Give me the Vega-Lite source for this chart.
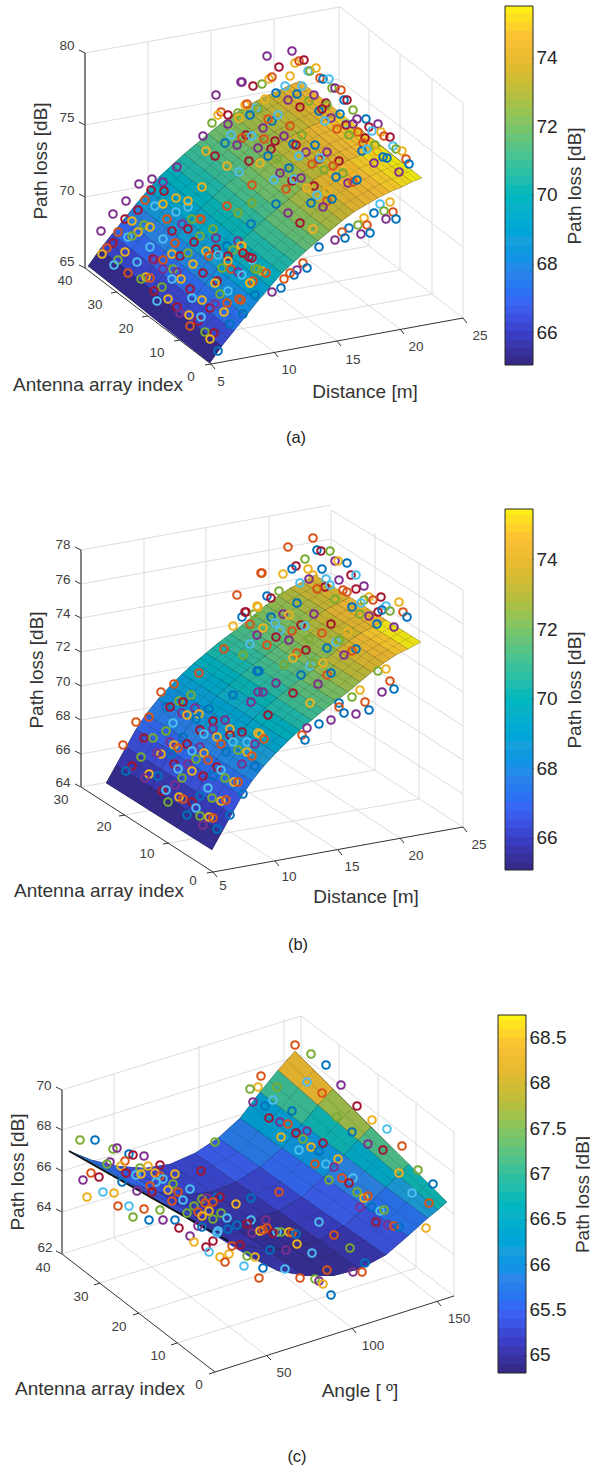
{"$schema":"https://vega.github.io/schema/vega-lite/v6.json","background":"white","padding":{"left":0,"right":0,"top":5,"bottom":0},"autosize":{"type":"pad"},"spacing":0,"config":{"font":"Liberation Sans","view":{"stroke":null},"concat":{"spacing":0}},"resolve":{"scale":{"fill":"independent","stroke":"independent","color":"independent"}},
"datasets":{
"cb1":[{"a":65.05,"b":65.3},{"a":65.3,"b":65.55},{"a":65.55,"b":65.8},{"a":65.8,"b":66.05},{"a":66.05,"b":66.3},{"a":66.3,"b":66.55},{"a":66.55,"b":66.8},{"a":66.8,"b":67.05},{"a":67.05,"b":67.3},{"a":67.3,"b":67.55},{"a":67.55,"b":67.8},{"a":67.8,"b":68.05},{"a":68.05,"b":68.3},{"a":68.3,"b":68.55},{"a":68.55,"b":68.8},{"a":68.8,"b":69.05},{"a":69.05,"b":69.3},{"a":69.3,"b":69.55},{"a":69.55,"b":69.8},{"a":69.8,"b":70.05},{"a":70.05,"b":70.3},{"a":70.3,"b":70.55},{"a":70.55,"b":70.8},{"a":70.8,"b":71.05},{"a":71.05,"b":71.3},{"a":71.3,"b":71.55},{"a":71.55,"b":71.8},{"a":71.8,"b":72.05},{"a":72.05,"b":72.3},{"a":72.3,"b":72.55},{"a":72.55,"b":72.8},{"a":72.8,"b":73.05},{"a":73.05,"b":73.3},{"a":73.3,"b":73.55},{"a":73.55,"b":73.8},{"a":73.8,"b":74.05},{"a":74.05,"b":74.3},{"a":74.3,"b":74.55},{"a":74.55,"b":74.8},{"a":74.8,"b":75.05},{"a":75.05,"b":75.3},{"a":75.3,"b":75.5}],
"cb3":[{"a":64.8,"b":64.9},{"a":64.9,"b":65},{"a":65,"b":65.1},{"a":65.1,"b":65.2},{"a":65.2,"b":65.3},{"a":65.3,"b":65.4},{"a":65.4,"b":65.5},{"a":65.5,"b":65.6},{"a":65.6,"b":65.7},{"a":65.7,"b":65.8},{"a":65.8,"b":65.9},{"a":65.9,"b":66},{"a":66,"b":66.1},{"a":66.1,"b":66.2},{"a":66.2,"b":66.3},{"a":66.3,"b":66.4},{"a":66.4,"b":66.5},{"a":66.5,"b":66.6},{"a":66.6,"b":66.7},{"a":66.7,"b":66.8},{"a":66.8,"b":66.9},{"a":66.9,"b":67},{"a":67,"b":67.1},{"a":67.1,"b":67.2},{"a":67.2,"b":67.3},{"a":67.3,"b":67.4},{"a":67.4,"b":67.5},{"a":67.5,"b":67.6},{"a":67.6,"b":67.7},{"a":67.7,"b":67.8},{"a":67.8,"b":67.9},{"a":67.9,"b":68},{"a":68,"b":68.1},{"a":68.1,"b":68.2},{"a":68.2,"b":68.3},{"a":68.3,"b":68.4},{"a":68.4,"b":68.5},{"a":68.5,"b":68.6},{"a":68.6,"b":68.7},{"a":68.7,"b":68.75}],
"la":[{"k":"g","x":85,"y":52,"x2":340,"y2":6},{"k":"g","x":85,"y":124,"x2":338,"y2":78},{"k":"g","x":85,"y":196,"x2":338,"y2":150},{"k":"g","x":85,"y":267,"x2":338,"y2":221},{"k":"g","x":340,"y":6,"x2":463,"y2":102},{"k":"g","x":338,"y":78,"x2":463,"y2":174},{"k":"g","x":338,"y":150,"x2":463,"y2":246},{"k":"g","x":338,"y":221,"x2":463,"y2":317},{"k":"g","x":148,"y":41,"x2":148,"y2":256},{"k":"g","x":211,"y":29,"x2":211,"y2":244},{"k":"g","x":274,"y":18,"x2":274,"y2":233},{"k":"g","x":339,"y":6,"x2":339,"y2":221},{"k":"g","x":369,"y":30,"x2":369,"y2":245},{"k":"g","x":400,"y":54,"x2":400,"y2":269},{"k":"g","x":432,"y":78,"x2":432,"y2":293},{"k":"g","x":463,"y":102,"x2":463,"y2":317},{"k":"g","x":274,"y":351,"x2":148,"y2":256},{"k":"g","x":337,"y":340,"x2":211,"y2":244},{"k":"g","x":400,"y":328,"x2":274,"y2":233},{"k":"g","x":180,"y":339,"x2":432,"y2":293},{"k":"g","x":148,"y":315,"x2":400,"y2":269},{"k":"g","x":117,"y":291,"x2":369,"y2":245},{"k":"a","x":85,"y":267,"x2":211,"y2":363},{"k":"a","x":211,"y":363,"x2":463,"y2":317},{"k":"a","x":85,"y":52,"x2":79,"y2":49},{"k":"a","x":85,"y":124,"x2":79,"y2":121},{"k":"a","x":85,"y":196,"x2":79,"y2":193},{"k":"a","x":85,"y":267,"x2":79,"y2":264},{"k":"a","x":117,"y":291,"x2":111,"y2":292},{"k":"a","x":148,"y":315,"x2":142,"y2":316},{"k":"a","x":180,"y":339,"x2":174,"y2":340},{"k":"a","x":211,"y":363,"x2":205,"y2":364},{"k":"a","x":211,"y":363,"x2":215,"y2":368},{"k":"a","x":274,"y":351,"x2":278,"y2":356},{"k":"a","x":337,"y":340,"x2":341,"y2":345},{"k":"a","x":400,"y":328,"x2":404,"y2":333},{"k":"a","x":463,"y":317,"x2":467,"y2":322},{"k":"z","x":85,"y":52,"x2":85,"y2":267}],
"lb":[{"k":"g","x":81,"y":550,"x2":331,"y2":505},{"k":"g","x":81,"y":584,"x2":331,"y2":539},{"k":"g","x":81,"y":618,"x2":331,"y2":573},{"k":"g","x":81,"y":652,"x2":331,"y2":607},{"k":"g","x":81,"y":686,"x2":331,"y2":641},{"k":"g","x":81,"y":720,"x2":331,"y2":675},{"k":"g","x":81,"y":754,"x2":331,"y2":709},{"k":"g","x":81,"y":787,"x2":331,"y2":742},{"k":"g","x":331,"y":510,"x2":463,"y2":590},{"k":"g","x":331,"y":539,"x2":463,"y2":624},{"k":"g","x":331,"y":573,"x2":463,"y2":658},{"k":"g","x":331,"y":607,"x2":463,"y2":692},{"k":"g","x":331,"y":641,"x2":463,"y2":726},{"k":"g","x":331,"y":675,"x2":463,"y2":760},{"k":"g","x":331,"y":709,"x2":463,"y2":794},{"k":"g","x":331,"y":742,"x2":463,"y2":827},{"k":"g","x":144,"y":539,"x2":144,"y2":776},{"k":"g","x":206,"y":528,"x2":206,"y2":765},{"k":"g","x":269,"y":516,"x2":269,"y2":753},{"k":"g","x":331,"y":510,"x2":331,"y2":742},{"k":"g","x":375,"y":533,"x2":375,"y2":770},{"k":"g","x":419,"y":562,"x2":419,"y2":799},{"k":"g","x":463,"y":590,"x2":463,"y2":827},{"k":"g","x":275,"y":861,"x2":144,"y2":776},{"k":"g","x":338,"y":850,"x2":206,"y2":765},{"k":"g","x":400,"y":838,"x2":269,"y2":753},{"k":"g","x":125,"y":815,"x2":375,"y2":770},{"k":"g","x":169,"y":843,"x2":419,"y2":799},{"k":"a","x":81,"y":787,"x2":213,"y2":872},{"k":"a","x":213,"y":872,"x2":463,"y2":827},{"k":"a","x":81,"y":550,"x2":75,"y2":547},{"k":"a","x":81,"y":584,"x2":75,"y2":581},{"k":"a","x":81,"y":618,"x2":75,"y2":615},{"k":"a","x":81,"y":652,"x2":75,"y2":649},{"k":"a","x":81,"y":686,"x2":75,"y2":683},{"k":"a","x":81,"y":720,"x2":75,"y2":717},{"k":"a","x":81,"y":754,"x2":75,"y2":751},{"k":"a","x":81,"y":787,"x2":75,"y2":784},{"k":"a","x":125,"y":815,"x2":119,"y2":816},{"k":"a","x":169,"y":843,"x2":163,"y2":844},{"k":"a","x":213,"y":872,"x2":207,"y2":873},{"k":"a","x":213,"y":872,"x2":217,"y2":877},{"k":"a","x":275,"y":861,"x2":279,"y2":866},{"k":"a","x":338,"y":850,"x2":342,"y2":855},{"k":"a","x":400,"y":838,"x2":404,"y2":843},{"k":"a","x":463,"y":827,"x2":467,"y2":832},{"k":"z","x":81,"y":550,"x2":81,"y2":787}],
"lc":[{"k":"g","x":62,"y":1090,"x2":301,"y2":1016},{"k":"g","x":62,"y":1130,"x2":301,"y2":1055},{"k":"g","x":62,"y":1171,"x2":301,"y2":1096},{"k":"g","x":62,"y":1212,"x2":301,"y2":1137},{"k":"g","x":62,"y":1254,"x2":301,"y2":1178},{"k":"g","x":301,"y":1016,"x2":454,"y2":1132},{"k":"g","x":301,"y":1055,"x2":454,"y2":1173},{"k":"g","x":301,"y":1096,"x2":454,"y2":1214},{"k":"g","x":301,"y":1137,"x2":454,"y2":1255},{"k":"g","x":301,"y":1178,"x2":454,"y2":1296},{"k":"g","x":114,"y":1074,"x2":114,"y2":1238},{"k":"g","x":199,"y":1046,"x2":199,"y2":1210},{"k":"g","x":284,"y":1019,"x2":284,"y2":1183},{"k":"g","x":301,"y":1016,"x2":301,"y2":1178},{"k":"g","x":339,"y":1044,"x2":339,"y2":1208},{"k":"g","x":378,"y":1074,"x2":378,"y2":1238},{"k":"g","x":416,"y":1104,"x2":416,"y2":1268},{"k":"g","x":454,"y":1132,"x2":454,"y2":1296},{"k":"g","x":267,"y":1356,"x2":114,"y2":1238},{"k":"g","x":352,"y":1328,"x2":199,"y2":1210},{"k":"g","x":437,"y":1301,"x2":284,"y2":1183},{"k":"g","x":100,"y":1283,"x2":339,"y2":1208},{"k":"g","x":139,"y":1313,"x2":378,"y2":1238},{"k":"g","x":177,"y":1343,"x2":416,"y2":1268},{"k":"a","x":62,"y":1254,"x2":215,"y2":1372},{"k":"a","x":215,"y":1372,"x2":454,"y2":1296},{"k":"a","x":62,"y":1090,"x2":56,"y2":1087},{"k":"a","x":62,"y":1130,"x2":56,"y2":1127},{"k":"a","x":62,"y":1171,"x2":56,"y2":1168},{"k":"a","x":62,"y":1212,"x2":56,"y2":1209},{"k":"a","x":62,"y":1254,"x2":56,"y2":1251},{"k":"a","x":100,"y":1283,"x2":94,"y2":1285},{"k":"a","x":139,"y":1313,"x2":133,"y2":1315},{"k":"a","x":177,"y":1343,"x2":171,"y2":1345},{"k":"a","x":215,"y":1372,"x2":209,"y2":1374},{"k":"a","x":267,"y":1356,"x2":271,"y2":1360},{"k":"a","x":352,"y":1328,"x2":356,"y2":1333},{"k":"a","x":437,"y":1301,"x2":441,"y2":1306},{"k":"z","x":62,"y":1090,"x2":62,"y2":1254}],
"ta":[{"k":"t","s":"80","x":67,"y":45},{"k":"t","s":"75","x":67,"y":117},{"k":"t","s":"70","x":67,"y":190},{"k":"t","s":"65","x":67,"y":261},{"k":"t","s":"40","x":65,"y":280},{"k":"t","s":"30","x":95,"y":304},{"k":"t","s":"20","x":126,"y":328},{"k":"t","s":"10","x":157,"y":352},{"k":"t","s":"0","x":191,"y":376},{"k":"t","s":"5","x":221,"y":381},{"k":"t","s":"10","x":289,"y":369},{"k":"t","s":"15","x":353,"y":359},{"k":"t","s":"20","x":416,"y":346},{"k":"t","s":"25","x":480,"y":335},{"k":"h","s":"Antenna array index","x":98,"y":384},{"k":"h","s":"Distance [m]","x":365,"y":391},{"k":"r","s":"Path loss [dB]","x":41,"y":160},{"k":"c","s":"(a)","x":296,"y":437}],
"tb":[{"k":"t","s":"78","x":63,"y":545},{"k":"t","s":"76","x":63,"y":580},{"k":"t","s":"74","x":63,"y":614},{"k":"t","s":"72","x":63,"y":647},{"k":"t","s":"70","x":63,"y":682},{"k":"t","s":"68","x":63,"y":716},{"k":"t","s":"66","x":63,"y":750},{"k":"t","s":"64","x":63,"y":783},{"k":"t","s":"30","x":61,"y":800},{"k":"t","s":"20","x":104,"y":827},{"k":"t","s":"10","x":147,"y":854},{"k":"t","s":"0","x":193,"y":881},{"k":"t","s":"5","x":223,"y":886},{"k":"t","s":"10","x":289,"y":877},{"k":"t","s":"15","x":352,"y":867},{"k":"t","s":"20","x":416,"y":856},{"k":"t","s":"25","x":479,"y":845},{"k":"h","s":"Antenna array index","x":99,"y":891},{"k":"h","s":"Distance [m]","x":366,"y":897},{"k":"r","s":"Path loss [dB]","x":37,"y":670},{"k":"c","s":"(b)","x":298,"y":945}],
"tc":[{"k":"t","s":"70","x":44,"y":1086},{"k":"t","s":"68","x":44,"y":1126},{"k":"t","s":"66","x":44,"y":1167},{"k":"t","s":"64","x":44,"y":1207},{"k":"t","s":"62","x":45,"y":1248},{"k":"t","s":"40","x":43,"y":1268},{"k":"t","s":"30","x":81,"y":1297},{"k":"t","s":"20","x":119,"y":1327},{"k":"t","s":"10","x":158,"y":1356},{"k":"t","s":"0","x":199,"y":1385},{"k":"t","s":"50","x":284,"y":1373},{"k":"t","s":"100","x":373,"y":1346},{"k":"t","s":"150","x":459,"y":1319},{"k":"h","s":"Antenna array index","x":100,"y":1389},{"k":"h","s":"Angle [ º]","x":360,"y":1391},{"k":"r","s":"Path loss [dB]","x":18,"y":1172},{"k":"c","s":"(c)","x":297,"y":1457}],
"ba":[{"i":0,"x":[88,100,112,124,136,148,160,172,184,196,208,220,232,244,256,268,280,290,300,422,412,402,390,378,366,354,342,330,318,306,294,282,270,258,246,234,222,210],"y":[265,248,233,218,203,189,175,164,153,143,133,123,114,107,100,94,89,84,80,177,181,186,191,197,204,211,220,230,240,250,261,272,286,300,315,330,345,362]}],
"bb":[{"i":0,"x":[106,116,126,136,146,158,170,182,194,206,218,230,242,254,266,278,290,302,315,421,408,396,384,372,360,348,336,324,312,300,288,276,264,252,242,232,222,212],"y":[783,765,747,729,714,699,686,674,663,653,643,634,625,615,605,596,588,582,575,642,649,655,663,672,682,692,701,710,720,730,741,753,766,781,796,814,832,850]}],
"bc":[{"i":0,"x":[69,92,118,145,170,195,218,240,260,278,295,447,438,428,408,386,360,333,306,278,250,221],"y":[1151,1160,1166,1168,1164,1153,1138,1118,1092,1070,1051,1202,1210,1218,1236,1255,1269,1276,1276,1271,1257,1236]}],
"sa":[{"i":1,"v":65.2,"x":[88,100,141,129],"y":[265,248,280,297]},{"i":2,"v":66.1,"x":[100,112,153,141],"y":[248,233,265,280]},{"i":3,"v":66.9,"x":[112,124,165,153],"y":[233,218,250,265]},{"i":4,"v":67.7,"x":[124,136,177,165],"y":[218,203,235,250]},{"i":5,"v":68.4,"x":[136,148,189,177],"y":[203,189,221,235]},{"i":6,"v":69.1,"x":[148,160,201,189],"y":[189,175,207,221]},{"i":7,"v":69.7,"x":[160,172,213,201],"y":[175,164,196,207]},{"i":8,"v":70.3,"x":[172,184,225,213],"y":[164,153,185,196]},{"i":9,"v":70.8,"x":[184,196,237,225],"y":[153,143,175,185]},{"i":10,"v":71.3,"x":[196,208,249,237],"y":[143,133,165,175]},{"i":11,"v":71.7,"x":[208,220,261,249],"y":[133,123,155,165]},{"i":12,"v":72.1,"x":[220,232,273,261],"y":[123,114,146,155]},{"i":13,"v":72.5,"x":[232,244,285,273],"y":[114,107,139,146]},{"i":14,"v":72.8,"x":[244,256,297,285],"y":[107,100,132,139]},{"i":15,"v":73.1,"x":[256,268,309,297],"y":[100,94,126,132]},{"i":16,"v":73.5,"x":[268,280,321,309],"y":[94,89,121,126]},{"i":17,"v":73.9,"x":[280,290,331,321],"y":[89,84,116,121]},{"i":18,"v":74.3,"x":[290,300,341,331],"y":[84,80,112,116]},
{"i":19,"v":65.2,"x":[129,141,181,169],"y":[297,280,313,330]},{"i":20,"v":66.1,"x":[141,153,193,181],"y":[280,265,298,313]},{"i":21,"v":67,"x":[153,165,205,193],"y":[265,250,283,298]},{"i":22,"v":67.8,"x":[165,177,217,205],"y":[250,235,268,283]},{"i":23,"v":68.6,"x":[177,189,229,217],"y":[235,221,254,268]},{"i":24,"v":69.3,"x":[189,201,241,229],"y":[221,207,240,254]},{"i":25,"v":70,"x":[201,213,253,241],"y":[207,196,229,240]},{"i":26,"v":70.6,"x":[213,225,265,253],"y":[196,185,218,229]},{"i":27,"v":71.1,"x":[225,237,277,265],"y":[185,175,208,218]},{"i":28,"v":71.7,"x":[237,249,289,277],"y":[175,165,198,208]},{"i":29,"v":72.1,"x":[249,261,301,289],"y":[165,155,188,198]},{"i":30,"v":72.5,"x":[261,273,313,301],"y":[155,146,179,188]},{"i":31,"v":73,"x":[273,285,325,313],"y":[146,139,172,179]},{"i":32,"v":73.4,"x":[285,297,337,325],"y":[139,132,165,172]},{"i":33,"v":73.9,"x":[297,309,349,337],"y":[132,126,159,165]},{"i":34,"v":74.3,"x":[309,321,361,349],"y":[126,121,154,159]},{"i":35,"v":74.6,"x":[321,331,371,361],"y":[121,116,149,154]},{"i":36,"v":74.9,"x":[331,341,381,371],"y":[116,112,145,149]},
{"i":37,"v":65.2,"x":[169,181,222,210],"y":[330,313,345,362]},{"i":38,"v":66.2,"x":[181,193,234,222],"y":[313,298,330,345]},{"i":39,"v":67.1,"x":[193,205,246,234],"y":[298,283,315,330]},{"i":40,"v":68,"x":[205,217,258,246],"y":[283,268,300,315]},{"i":41,"v":68.8,"x":[217,229,270,258],"y":[268,254,286,300]},{"i":42,"v":69.6,"x":[229,241,282,270],"y":[254,240,272,286]},{"i":43,"v":70.3,"x":[241,253,294,282],"y":[240,229,261,272]},{"i":44,"v":70.9,"x":[253,265,306,294],"y":[229,218,250,261]},{"i":45,"v":71.5,"x":[265,277,318,306],"y":[218,208,240,250]},{"i":46,"v":72.1,"x":[277,289,330,318],"y":[208,198,230,240]},{"i":47,"v":72.6,"x":[289,301,342,330],"y":[198,188,220,230]},{"i":48,"v":73.2,"x":[301,313,354,342],"y":[188,179,211,220]},{"i":49,"v":73.8,"x":[313,325,366,354],"y":[179,172,204,211]},{"i":50,"v":74.2,"x":[325,337,378,366],"y":[172,165,197,204]},{"i":51,"v":74.5,"x":[337,349,390,378],"y":[165,159,191,197]},{"i":52,"v":74.8,"x":[349,361,402,390],"y":[159,154,186,191]},{"i":53,"v":75.1,"x":[361,371,412,402],"y":[154,149,181,186]},{"i":54,"v":75.4,"x":[371,381,422,412],"y":[149,145,177,181]}],
"sb":[{"i":1,"v":65.2,"x":[106,116,151,141],"y":[783,765,787,805]},{"i":2,"v":65.7,"x":[116,126,161,151],"y":[765,747,769,787]},{"i":3,"v":66.3,"x":[126,136,171,161],"y":[747,729,751,769]},{"i":4,"v":66.9,"x":[136,146,181,171],"y":[729,714,736,751]},{"i":5,"v":67.5,"x":[146,158,193,181],"y":[714,699,721,736]},{"i":6,"v":68.1,"x":[158,170,205,193],"y":[699,686,708,721]},{"i":7,"v":68.7,"x":[170,182,217,205],"y":[686,674,696,708]},{"i":8,"v":69.2,"x":[182,194,229,217],"y":[674,663,685,696]},{"i":9,"v":69.7,"x":[194,206,241,229],"y":[663,653,675,685]},{"i":10,"v":70.2,"x":[206,218,253,241],"y":[653,643,665,675]},{"i":11,"v":70.7,"x":[218,230,265,253],"y":[643,634,656,665]},{"i":12,"v":71.1,"x":[230,242,277,265],"y":[634,625,647,656]},{"i":13,"v":71.5,"x":[242,254,289,277],"y":[625,615,637,647]},{"i":14,"v":71.9,"x":[254,266,301,289],"y":[615,605,627,637]},{"i":15,"v":72.3,"x":[266,278,313,301],"y":[605,596,618,627]},{"i":16,"v":72.7,"x":[278,290,325,313],"y":[596,588,610,618]},{"i":17,"v":73.2,"x":[290,302,337,325],"y":[588,582,604,610]},{"i":18,"v":73.6,"x":[302,315,350,337],"y":[582,575,597,604]},
{"i":19,"v":65.2,"x":[141,151,187,177],"y":[805,787,810,828]},{"i":20,"v":65.7,"x":[151,161,197,187],"y":[787,769,792,810]},{"i":21,"v":66.4,"x":[161,171,207,197],"y":[769,751,774,792]},{"i":22,"v":67,"x":[171,181,217,207],"y":[751,736,759,774]},{"i":23,"v":67.6,"x":[181,193,229,217],"y":[736,721,744,759]},{"i":24,"v":68.3,"x":[193,205,241,229],"y":[721,708,731,744]},{"i":25,"v":68.9,"x":[205,217,253,241],"y":[708,696,719,731]},{"i":26,"v":69.4,"x":[217,229,265,253],"y":[696,685,708,719]},{"i":27,"v":70,"x":[229,241,277,265],"y":[685,675,698,708]},{"i":28,"v":70.5,"x":[241,253,289,277],"y":[675,665,688,698]},{"i":29,"v":71,"x":[253,265,301,289],"y":[665,656,679,688]},{"i":30,"v":71.4,"x":[265,277,313,301],"y":[656,647,670,679]},{"i":31,"v":71.9,"x":[277,289,325,313],"y":[647,637,660,670]},{"i":32,"v":72.3,"x":[289,301,337,325],"y":[637,627,650,660]},{"i":33,"v":72.8,"x":[301,313,349,337],"y":[627,618,641,650]},{"i":34,"v":73.3,"x":[313,325,361,349],"y":[618,610,633,641]},{"i":35,"v":73.9,"x":[325,337,373,361],"y":[610,604,627,633]},{"i":36,"v":74.3,"x":[337,350,386,373],"y":[604,597,620,627]},
{"i":37,"v":65.3,"x":[177,187,222,212],"y":[828,810,832,850]},{"i":38,"v":65.8,"x":[187,197,232,222],"y":[810,792,814,832]},{"i":39,"v":66.5,"x":[197,207,242,232],"y":[792,774,796,814]},{"i":40,"v":67.1,"x":[207,217,252,242],"y":[774,759,781,796]},{"i":41,"v":67.8,"x":[217,229,264,252],"y":[759,744,766,781]},{"i":42,"v":68.5,"x":[229,241,276,264],"y":[744,731,753,766]},{"i":43,"v":69.1,"x":[241,253,288,276],"y":[731,719,741,753]},{"i":44,"v":69.7,"x":[253,265,300,288],"y":[719,708,730,741]},{"i":45,"v":70.3,"x":[265,277,312,300],"y":[708,698,720,730]},{"i":46,"v":70.9,"x":[277,289,324,312],"y":[698,688,710,720]},{"i":47,"v":71.4,"x":[289,301,336,324],"y":[688,679,701,710]},{"i":48,"v":71.9,"x":[301,313,348,336],"y":[679,670,692,701]},{"i":49,"v":72.4,"x":[313,325,360,348],"y":[670,660,682,692]},{"i":50,"v":73,"x":[325,337,372,360],"y":[660,650,672,682]},{"i":51,"v":73.6,"x":[337,349,384,372],"y":[650,641,663,672]},{"i":52,"v":74.1,"x":[349,361,396,384],"y":[641,633,655,663]},{"i":53,"v":74.7,"x":[361,373,408,396],"y":[633,627,649,655]},{"i":54,"v":75.3,"x":[373,386,421,408],"y":[627,620,642,649]}],
"sc":[{"i":1,"v":65.7,"x":[69,92,132,107],"y":[1151,1160,1184,1172]},{"i":2,"v":65.5,"x":[92,118,158,132],"y":[1160,1166,1192,1184]},{"i":3,"v":65.3,"x":[118,145,185,158],"y":[1166,1168,1195,1192]},{"i":4,"v":65.2,"x":[145,170,211,185],"y":[1168,1164,1192,1195]},{"i":5,"v":65.2,"x":[170,195,236,211],"y":[1164,1153,1182,1192]},{"i":6,"v":65.4,"x":[195,218,260,236],"y":[1153,1138,1167,1182]},{"i":7,"v":65.7,"x":[218,240,282,260],"y":[1138,1118,1148,1167]},{"i":8,"v":66.2,"x":[240,260,302,282],"y":[1118,1092,1124,1148]},{"i":9,"v":67,"x":[260,278,318,302],"y":[1092,1070,1105,1124]},{"i":10,"v":68.2,"x":[278,295,333,318],"y":[1070,1051,1089,1105]},
{"i":11,"v":65.5,"x":[107,132,171,145],"y":[1172,1184,1209,1194]},{"i":12,"v":65.3,"x":[132,158,198,171],"y":[1184,1192,1219,1209]},{"i":13,"v":65.1,"x":[158,185,226,198],"y":[1192,1195,1222,1219]},{"i":14,"v":65,"x":[185,211,252,226],"y":[1195,1192,1220,1222]},{"i":15,"v":65,"x":[211,236,278,252],"y":[1192,1182,1211,1220]},{"i":16,"v":65.2,"x":[236,260,302,278],"y":[1182,1167,1197,1211]},{"i":17,"v":65.5,"x":[260,282,324,302],"y":[1167,1148,1177,1197]},{"i":18,"v":66,"x":[282,302,344,324],"y":[1148,1124,1155,1177]},{"i":19,"v":66.7,"x":[302,318,358,344],"y":[1124,1105,1140,1155]},{"i":20,"v":67.6,"x":[318,333,371,358],"y":[1105,1089,1127,1140]},
{"i":21,"v":65.3,"x":[145,171,211,183],"y":[1194,1209,1233,1215]},{"i":22,"v":65.1,"x":[171,198,238,211],"y":[1209,1219,1245,1233]},{"i":23,"v":65,"x":[198,226,266,238],"y":[1219,1222,1249,1245]},{"i":24,"v":64.9,"x":[226,252,292,266],"y":[1222,1220,1248,1249]},{"i":25,"v":64.9,"x":[252,278,319,292],"y":[1220,1211,1240,1248]},{"i":26,"v":65.1,"x":[278,302,344,319],"y":[1211,1197,1226,1240]},{"i":27,"v":65.4,"x":[302,324,366,344],"y":[1197,1177,1207,1226]},{"i":28,"v":65.8,"x":[324,344,386,366],"y":[1177,1155,1187,1207]},{"i":29,"v":66.4,"x":[344,358,398,386],"y":[1155,1140,1175,1187]},{"i":30,"v":67.1,"x":[358,371,409,398],"y":[1140,1127,1164,1175]},
{"i":31,"v":65.3,"x":[183,211,250,221],"y":[1215,1233,1257,1236]},{"i":32,"v":65.1,"x":[211,238,278,250],"y":[1233,1245,1271,1257]},{"i":33,"v":65,"x":[238,266,306,278],"y":[1245,1249,1276,1271]},{"i":34,"v":64.9,"x":[266,292,333,306],"y":[1249,1248,1276,1276]},{"i":35,"v":64.9,"x":[292,319,360,333],"y":[1248,1240,1269,1276]},{"i":36,"v":65,"x":[319,344,386,360],"y":[1240,1226,1255,1269]},{"i":37,"v":65.3,"x":[344,366,408,386],"y":[1226,1207,1236,1255]},{"i":38,"v":65.6,"x":[366,386,428,408],"y":[1207,1187,1218,1236]},{"i":39,"v":66.1,"x":[386,398,438,428],"y":[1187,1175,1210,1218]},{"i":40,"v":66.7,"x":[398,409,447,438],"y":[1175,1164,1202,1210]}],
"ma":[{"i":1,"x":[108,144,180,216,252,288,320],"y":[281,234,191,159,130,110,96]},{"i":2,"x":[149,185,221,257,293,329,361],"y":[314,267,224,192,163,143,129]},{"i":3,"x":[190,226,262,298,334,370,402],"y":[346,299,256,224,195,175,161]},{"i":4,"x":[98,134,170,206,242,278,310],"y":[273,226,183,151,122,102,88]},{"i":5,"x":[118,154,190,226,262,298,330],"y":[289,242,199,167,138,118,104]},{"i":6,"x":[139,175,211,247,283,319,351],"y":[305,258,215,183,154,134,120]},{"i":7,"x":[159,195,231,267,303,339,371],"y":[322,275,232,200,171,151,137]},{"i":8,"x":[180,216,252,288,324,360,392],"y":[338,291,248,216,187,167,153]},{"i":9,"x":[200,236,272,308,344,380,412],"y":[354,307,264,232,203,183,169]},{"i":10,"x":[94,216],"y":[256,353]},{"i":11,"x":[106,228],"y":[240,337]},{"i":12,"x":[118,240],"y":[225,322]},{"i":13,"x":[130,252],"y":[210,307]},{"i":14,"x":[142,264],"y":[196,293]},{"i":15,"x":[154,276],"y":[182,279]},{"i":16,"x":[166,288],"y":[169,266]},{"i":17,"x":[178,300],"y":[158,255]},{"i":18,"x":[190,312],"y":[148,245]},{"i":19,"x":[202,324],"y":[138,235]},{"i":20,"x":[214,336],"y":[128,225]},{"i":21,"x":[226,348],"y":[118,215]},{"i":22,"x":[238,360],"y":[110,207]},{"i":23,"x":[250,372],"y":[103,200]},{"i":24,"x":[262,384],"y":[97,194]},{"i":25,"x":[274,396],"y":[91,188]},{"i":26,"x":[285,407],"y":[86,183]},{"i":27,"x":[295,417],"y":[82,179]}],
"mb":[{"i":1,"x":[124,154,188,224,260,296,333],"y":[794,740,697,664,636,607,586]},{"i":2,"x":[159,189,223,259,295,331,368],"y":[817,763,720,687,659,630,609]},{"i":3,"x":[194,224,258,294,330,366,403],"y":[839,785,742,709,681,652,631]},{"i":4,"x":[115,145,179,215,251,287,324],"y":[789,735,692,659,631,602,581]},{"i":5,"x":[133,163,197,233,269,305,342],"y":[800,746,703,670,642,613,592]},{"i":6,"x":[150,180,214,250,286,322,359],"y":[811,757,714,681,653,624,603]},{"i":7,"x":[168,198,232,268,304,340,377],"y":[822,768,725,692,664,635,614]},{"i":8,"x":[186,216,250,286,322,358,395],"y":[833,779,736,703,675,646,625]},{"i":9,"x":[203,233,267,303,339,375,412],"y":[844,790,747,714,686,657,636]},{"i":10,"x":[111,217],"y":[774,841]},{"i":11,"x":[121,227],"y":[756,823]},{"i":12,"x":[131,237],"y":[738,805]},{"i":13,"x":[141,247],"y":[721,788]},{"i":14,"x":[152,258],"y":[706,773]},{"i":15,"x":[164,270],"y":[692,759]},{"i":16,"x":[176,282],"y":[680,747]},{"i":17,"x":[188,294],"y":[668,735]},{"i":18,"x":[200,306],"y":[658,725]},{"i":19,"x":[212,318],"y":[648,715]},{"i":20,"x":[224,330],"y":[638,705]},{"i":21,"x":[236,342],"y":[630,697]},{"i":22,"x":[248,354],"y":[620,687]},{"i":23,"x":[260,366],"y":[610,677]},{"i":24,"x":[272,378],"y":[600,667]},{"i":25,"x":[284,390],"y":[592,659]},{"i":26,"x":[296,402],"y":[585,652]},{"i":27,"x":[308,414],"y":[578,645]}],
"mc":[{"i":1,"x":[88,138,190,239,281,314],"y":[1161,1179,1178,1152,1108,1070]},{"i":2,"x":[126,178,231,281,323,352],"y":[1183,1205,1206,1182,1139,1108]},{"i":3,"x":[164,218,272,323,365,390],"y":[1204,1232,1234,1211,1171,1145]},{"i":4,"x":[202,258,312,365,407,428],"y":[1225,1258,1262,1240,1202,1183]},{"i":5,"x":[80,235],"y":[1155,1246]},{"i":6,"x":[105,264],"y":[1163,1264]},{"i":7,"x":[131,292],"y":[1167,1273]},{"i":8,"x":[157,319],"y":[1166,1276]},{"i":9,"x":[182,346],"y":[1158,1272]},{"i":10,"x":[206,373],"y":[1145,1262]},{"i":11,"x":[229,397],"y":[1128,1245]},{"i":12,"x":[250,418],"y":[1105,1227]},{"i":13,"x":[269,433],"y":[1081,1214]},{"i":14,"x":[286,442],"y":[1060,1206]}],
"pa":[{"x":241,"y":81,"c":"p"},{"x":253,"y":85,"c":"r"},{"x":262,"y":83,"c":"g"},{"x":216,"y":94,"c":"p"},{"x":221,"y":111,"c":"o"},{"x":218,"y":114,"c":"y"},{"x":228,"y":114,"c":"r"},{"x":238,"y":112,"c":"g"},{"x":245,"y":104,"c":"y"},{"x":247,"y":103,"c":"o"},{"x":256,"y":107,"c":"l"},{"x":212,"y":122,"c":"g"},{"x":228,"y":123,"c":"p"},{"x":250,"y":114,"c":"b"},{"x":239,"y":117,"c":"y"},{"x":203,"y":135,"c":"p"},{"x":231,"y":134,"c":"l"},{"x":246,"y":134,"c":"r"},{"x":252,"y":135,"c":"l"},{"x":242,"y":137,"c":"o"},{"x":225,"y":142,"c":"b"},{"x":237,"y":144,"c":"p"},{"x":258,"y":147,"c":"p"},{"x":249,"y":160,"c":"r"},{"x":260,"y":162,"c":"y"},{"x":227,"y":165,"c":"y"},{"x":239,"y":171,"c":"l"},{"x":252,"y":184,"c":"o"},{"x":252,"y":202,"c":"g"},{"x":238,"y":212,"c":"g"},{"x":177,"y":166,"c":"p"},{"x":163,"y":181,"c":"p"},{"x":152,"y":178,"c":"p"},{"x":139,"y":183,"c":"p"},{"x":151,"y":189,"c":"r"},{"x":164,"y":190,"c":"r"},{"x":176,"y":197,"c":"y"},{"x":145,"y":199,"c":"o"},{"x":126,"y":200,"c":"p"},{"x":113,"y":213,"c":"p"},{"x":138,"y":209,"c":"r"},{"x":155,"y":205,"c":"l"},{"x":163,"y":203,"c":"y"},{"x":188,"y":206,"c":"l"},{"x":176,"y":211,"c":"l"},{"x":125,"y":218,"c":"r"},{"x":200,"y":218,"c":"o"},{"x":192,"y":218,"c":"g"},{"x":206,"y":150,"c":"y"},{"x":215,"y":155,"c":"r"},{"x":227,"y":205,"c":"o"},{"x":202,"y":186,"c":"y"},{"x":188,"y":200,"c":"y"},{"x":267,"y":55,"c":"p"},{"x":292,"y":50,"c":"p"},{"x":279,"y":66,"c":"r"},{"x":295,"y":62,"c":"y"},{"x":299,"y":60,"c":"o"},{"x":304,"y":59,"c":"r"},{"x":308,"y":70,"c":"l"},{"x":310,"y":70,"c":"g"},{"x":316,"y":67,"c":"y"},{"x":242,"y":81,"c":"p"},{"x":269,"y":78,"c":"y"},{"x":272,"y":76,"c":"o"},{"x":290,"y":75,"c":"y"},{"x":285,"y":85,"c":"l"},{"x":276,"y":92,"c":"b"},{"x":302,"y":85,"c":"l"},{"x":297,"y":93,"c":"b"},{"x":320,"y":77,"c":"o"},{"x":323,"y":78,"c":"b"},{"x":329,"y":78,"c":"l"},{"x":332,"y":87,"c":"g"},{"x":335,"y":87,"c":"p"},{"x":341,"y":89,"c":"o"},{"x":344,"y":99,"c":"b"},{"x":347,"y":99,"c":"r"},{"x":288,"y":99,"c":"p"},{"x":309,"y":100,"c":"g"},{"x":314,"y":94,"c":"p"},{"x":265,"y":98,"c":"y"},{"x":258,"y":108,"c":"g"},{"x":300,"y":106,"c":"r"},{"x":326,"y":102,"c":"r"},{"x":327,"y":104,"c":"g"},{"x":319,"y":110,"c":"b"},{"x":322,"y":108,"c":"r"},{"x":353,"y":109,"c":"g"},{"x":331,"y":117,"c":"p"},{"x":340,"y":113,"c":"b"},{"x":325,"y":120,"c":"l"},{"x":357,"y":118,"c":"p"},{"x":366,"y":118,"c":"b"},{"x":346,"y":123,"c":"l"},{"x":346,"y":124,"c":"r"},{"x":353,"y":123,"c":"p"},{"x":378,"y":123,"c":"p"},{"x":369,"y":126,"c":"r"},{"x":337,"y":128,"c":"o"},{"x":358,"y":131,"c":"o"},{"x":349,"y":134,"c":"g"},{"x":372,"y":130,"c":"l"},{"x":381,"y":131,"c":"y"},{"x":384,"y":135,"c":"o"},{"x":390,"y":136,"c":"r"},{"x":365,"y":137,"c":"r"},{"x":363,"y":142,"c":"o"},{"x":393,"y":145,"c":"l"},{"x":396,"y":148,"c":"g"},{"x":402,"y":150,"c":"y"},{"x":362,"y":150,"c":"b"},{"x":367,"y":148,"c":"l"},{"x":375,"y":144,"c":"g"},{"x":377,"y":151,"c":"y"},{"x":406,"y":158,"c":"o"},{"x":383,"y":156,"c":"b"},{"x":387,"y":157,"c":"b"},{"x":374,"y":162,"c":"p"},{"x":409,"y":163,"c":"b"},{"x":399,"y":171,"c":"p"},{"x":272,"y":120,"c":"b"},{"x":268,"y":118,"c":"o"},{"x":278,"y":114,"c":"l"},{"x":263,"y":127,"c":"p"},{"x":290,"y":125,"c":"o"},{"x":264,"y":138,"c":"o"},{"x":284,"y":135,"c":"p"},{"x":302,"y":134,"c":"g"},{"x":275,"y":140,"c":"r"},{"x":271,"y":148,"c":"r"},{"x":293,"y":143,"c":"b"},{"x":296,"y":144,"c":"r"},{"x":315,"y":144,"c":"b"},{"x":306,"y":151,"c":"p"},{"x":268,"y":155,"c":"b"},{"x":277,"y":158,"c":"g"},{"x":299,"y":155,"c":"l"},{"x":319,"y":158,"c":"r"},{"x":320,"y":157,"c":"l"},{"x":327,"y":151,"c":"p"},{"x":339,"y":160,"c":"r"},{"x":312,"y":163,"c":"o"},{"x":333,"y":165,"c":"o"},{"x":289,"y":167,"c":"b"},{"x":324,"y":169,"c":"g"},{"x":352,"y":168,"c":"y"},{"x":343,"y":172,"c":"g"},{"x":336,"y":176,"c":"b"},{"x":280,"y":172,"c":"p"},{"x":274,"y":179,"c":"l"},{"x":292,"y":180,"c":"r"},{"x":294,"y":178,"c":"l"},{"x":301,"y":177,"c":"p"},{"x":348,"y":182,"c":"p"},{"x":353,"y":181,"c":"o"},{"x":357,"y":179,"c":"b"},{"x":286,"y":188,"c":"o"},{"x":314,"y":185,"c":"r"},{"x":307,"y":187,"c":"y"},{"x":317,"y":194,"c":"l"},{"x":327,"y":190,"c":"y"},{"x":327,"y":200,"c":"o"},{"x":332,"y":198,"c":"b"},{"x":311,"y":202,"c":"b"},{"x":323,"y":206,"c":"p"},{"x":276,"y":203,"c":"b"},{"x":288,"y":212,"c":"p"},{"x":380,"y":203,"c":"l"},{"x":390,"y":201,"c":"y"},{"x":393,"y":211,"c":"o"},{"x":384,"y":210,"c":"g"},{"x":374,"y":212,"c":"b"},{"x":364,"y":217,"c":"y"},{"x":386,"y":218,"c":"p"},{"x":396,"y":218,"c":"b"},{"x":349,"y":227,"c":"b"},{"x":358,"y":224,"c":"g"},{"x":367,"y":224,"c":"o"},{"x":342,"y":231,"c":"o"},{"x":335,"y":239,"c":"p"},{"x":345,"y":237,"c":"b"},{"x":361,"y":233,"c":"p"},{"x":370,"y":232,"c":"b"},{"x":319,"y":246,"c":"b"},{"x":313,"y":228,"c":"y"},{"x":251,"y":223,"c":"b"},{"x":300,"y":222,"c":"r"},{"x":303,"y":262,"c":"o"},{"x":307,"y":267,"c":"b"},{"x":297,"y":269,"c":"p"},{"x":294,"y":274,"c":"b"},{"x":290,"y":272,"c":"o"},{"x":284,"y":278,"c":"o"},{"x":281,"y":287,"c":"b"},{"x":272,"y":291,"c":"p"},{"x":262,"y":270,"c":"y"},{"x":255,"y":268,"c":"g"},{"x":266,"y":272,"c":"o"},{"x":252,"y":259,"c":"l"},{"x":249,"y":256,"c":"r"},{"x":243,"y":252,"c":"o"},{"x":242,"y":245,"c":"y"},{"x":250,"y":282,"c":"y"},{"x":253,"y":280,"c":"o"},{"x":255,"y":294,"c":"b"},{"x":241,"y":299,"c":"o"},{"x":243,"y":313,"c":"b"},{"x":101,"y":230,"c":"p"},{"x":118,"y":231,"c":"o"},{"x":132,"y":220,"c":"y"},{"x":138,"y":231,"c":"y"},{"x":128,"y":236,"c":"l"},{"x":132,"y":235,"c":"g"},{"x":144,"y":224,"c":"g"},{"x":150,"y":226,"c":"y"},{"x":113,"y":242,"c":"r"},{"x":107,"y":247,"c":"o"},{"x":102,"y":253,"c":"y"},{"x":125,"y":251,"c":"y"},{"x":118,"y":259,"c":"g"},{"x":137,"y":261,"c":"l"},{"x":114,"y":264,"c":"l"},{"x":128,"y":272,"c":"o"},{"x":146,"y":276,"c":"y"},{"x":150,"y":277,"c":"o"},{"x":141,"y":278,"c":"g"},{"x":150,"y":246,"c":"l"},{"x":153,"y":258,"c":"r"},{"x":155,"y":259,"c":"p"},{"x":163,"y":259,"c":"o"},{"x":163,"y":238,"c":"l"},{"x":167,"y":218,"c":"o"},{"x":172,"y":230,"c":"r"},{"x":182,"y":223,"c":"p"},{"x":201,"y":218,"c":"o"},{"x":188,"y":228,"c":"r"},{"x":200,"y":235,"c":"g"},{"x":175,"y":242,"c":"o"},{"x":213,"y":228,"c":"g"},{"x":216,"y":237,"c":"p"},{"x":194,"y":241,"c":"r"},{"x":172,"y":253,"c":"y"},{"x":180,"y":255,"c":"r"},{"x":188,"y":252,"c":"g"},{"x":206,"y":250,"c":"y"},{"x":209,"y":255,"c":"o"},{"x":227,"y":245,"c":"b"},{"x":216,"y":248,"c":"r"},{"x":218,"y":254,"c":"l"},{"x":233,"y":249,"c":"g"},{"x":238,"y":240,"c":"p"},{"x":241,"y":245,"c":"y"},{"x":228,"y":255,"c":"r"},{"x":228,"y":260,"c":"y"},{"x":243,"y":252,"c":"r"},{"x":252,"y":257,"c":"r"},{"x":258,"y":268,"c":"g"},{"x":222,"y":267,"c":"g"},{"x":231,"y":268,"c":"o"},{"x":238,"y":271,"c":"p"},{"x":242,"y":274,"c":"l"},{"x":193,"y":263,"c":"y"},{"x":173,"y":268,"c":"g"},{"x":177,"y":271,"c":"p"},{"x":181,"y":278,"c":"y"},{"x":203,"y":272,"c":"r"},{"x":217,"y":280,"c":"r"},{"x":215,"y":282,"c":"y"},{"x":250,"y":282,"c":"y"},{"x":228,"y":290,"c":"l"},{"x":190,"y":288,"c":"r"},{"x":162,"y":286,"c":"g"},{"x":154,"y":290,"c":"r"},{"x":163,"y":268,"c":"p"},{"x":168,"y":298,"c":"y"},{"x":192,"y":297,"c":"l"},{"x":202,"y":299,"c":"y"},{"x":220,"y":293,"c":"g"},{"x":227,"y":302,"c":"o"},{"x":210,"y":307,"c":"r"},{"x":215,"y":303,"c":"p"},{"x":224,"y":311,"c":"y"},{"x":239,"y":298,"c":"o"},{"x":177,"y":306,"c":"r"},{"x":180,"y":312,"c":"p"},{"x":189,"y":314,"c":"y"},{"x":198,"y":320,"c":"r"},{"x":201,"y":316,"c":"l"},{"x":230,"y":323,"c":"b"},{"x":190,"y":325,"c":"o"},{"x":205,"y":331,"c":"g"},{"x":214,"y":332,"c":"r"},{"x":210,"y":338,"c":"y"},{"x":218,"y":350,"c":"b"},{"x":157,"y":300,"c":"l"},{"x":172,"y":278,"c":"l"}],
"pb":[{"x":237,"y":595,"c":"o"},{"x":261,"y":573,"c":"o"},{"x":242,"y":617,"c":"b"},{"x":246,"y":612,"c":"r"},{"x":254,"y":614,"c":"g"},{"x":257,"y":606,"c":"y"},{"x":233,"y":626,"c":"y"},{"x":250,"y":624,"c":"o"},{"x":257,"y":635,"c":"p"},{"x":250,"y":644,"c":"l"},{"x":224,"y":649,"c":"o"},{"x":243,"y":655,"c":"g"},{"x":199,"y":673,"c":"o"},{"x":257,"y":671,"c":"b"},{"x":174,"y":684,"c":"o"},{"x":161,"y":692,"c":"o"},{"x":258,"y":692,"c":"p"},{"x":233,"y":695,"c":"b"},{"x":251,"y":702,"c":"p"},{"x":191,"y":695,"c":"g"},{"x":179,"y":701,"c":"g"},{"x":183,"y":702,"c":"r"},{"x":166,"y":707,"c":"b"},{"x":170,"y":707,"c":"r"},{"x":195,"y":708,"c":"p"},{"x":209,"y":709,"c":"b"},{"x":182,"y":713,"c":"p"},{"x":187,"y":715,"c":"y"},{"x":199,"y":714,"c":"y"},{"x":196,"y":719,"c":"b"},{"x":213,"y":721,"c":"r"},{"x":225,"y":720,"c":"p"},{"x":136,"y":722,"c":"o"},{"x":149,"y":717,"c":"o"},{"x":173,"y":723,"c":"l"},{"x":166,"y":731,"c":"g"},{"x":200,"y":730,"c":"r"},{"x":213,"y":729,"c":"p"},{"x":204,"y":734,"c":"l"},{"x":230,"y":729,"c":"y"},{"x":230,"y":735,"c":"r"},{"x":242,"y":732,"c":"r"},{"x":217,"y":737,"c":"y"},{"x":258,"y":733,"c":"y"},{"x":144,"y":738,"c":"r"},{"x":153,"y":738,"c":"g"},{"x":183,"y":737,"c":"b"},{"x":123,"y":745,"c":"o"},{"x":170,"y":742,"c":"p"},{"x":174,"y":745,"c":"y"},{"x":178,"y":748,"c":"o"},{"x":187,"y":744,"c":"r"},{"x":200,"y":747,"c":"p"},{"x":192,"y":751,"c":"l"},{"x":204,"y":753,"c":"y"},{"x":221,"y":744,"c":"o"},{"x":233,"y":742,"c":"l"},{"x":247,"y":742,"c":"l"},{"x":226,"y":752,"c":"b"},{"x":238,"y":750,"c":"g"},{"x":247,"y":752,"c":"y"},{"x":252,"y":756,"c":"o"},{"x":255,"y":744,"c":"p"},{"x":161,"y":754,"c":"y"},{"x":157,"y":753,"c":"p"},{"x":171,"y":754,"c":"b"},{"x":141,"y":757,"c":"g"},{"x":196,"y":759,"c":"g"},{"x":208,"y":760,"c":"o"},{"x":242,"y":764,"c":"p"},{"x":255,"y":766,"c":"b"},{"x":174,"y":764,"c":"r"},{"x":188,"y":764,"c":"p"},{"x":178,"y":769,"c":"l"},{"x":192,"y":771,"c":"y"},{"x":217,"y":767,"c":"r"},{"x":221,"y":770,"c":"l"},{"x":132,"y":766,"c":"r"},{"x":126,"y":771,"c":"b"},{"x":149,"y":774,"c":"y"},{"x":145,"y":778,"c":"p"},{"x":158,"y":776,"c":"b"},{"x":203,"y":776,"c":"r"},{"x":182,"y":778,"c":"g"},{"x":225,"y":778,"c":"g"},{"x":234,"y":782,"c":"y"},{"x":238,"y":782,"c":"o"},{"x":208,"y":788,"c":"l"},{"x":213,"y":776,"c":"b"},{"x":175,"y":785,"c":"p"},{"x":162,"y":791,"c":"r"},{"x":166,"y":790,"c":"l"},{"x":243,"y":794,"c":"b"},{"x":179,"y":797,"c":"y"},{"x":183,"y":799,"c":"o"},{"x":192,"y":802,"c":"r"},{"x":221,"y":801,"c":"y"},{"x":226,"y":800,"c":"o"},{"x":212,"y":798,"c":"g"},{"x":196,"y":808,"c":"l"},{"x":200,"y":816,"c":"g"},{"x":209,"y":817,"c":"y"},{"x":213,"y":818,"c":"o"},{"x":230,"y":815,"c":"b"},{"x":187,"y":815,"c":"b"},{"x":203,"y":825,"c":"p"},{"x":217,"y":829,"c":"b"},{"x":168,"y":802,"c":"g"},{"x":200,"y":796,"c":"b"},{"x":313,"y":538,"c":"o"},{"x":288,"y":547,"c":"o"},{"x":317,"y":550,"c":"b"},{"x":321,"y":551,"c":"r"},{"x":330,"y":551,"c":"g"},{"x":305,"y":559,"c":"g"},{"x":335,"y":561,"c":"p"},{"x":338,"y":561,"c":"y"},{"x":347,"y":563,"c":"b"},{"x":296,"y":566,"c":"r"},{"x":292,"y":569,"c":"b"},{"x":308,"y":569,"c":"y"},{"x":322,"y":569,"c":"b"},{"x":262,"y":573,"c":"o"},{"x":283,"y":574,"c":"y"},{"x":313,"y":575,"c":"y"},{"x":351,"y":575,"c":"r"},{"x":356,"y":575,"c":"l"},{"x":309,"y":579,"c":"p"},{"x":326,"y":579,"c":"l"},{"x":339,"y":580,"c":"p"},{"x":300,"y":583,"c":"l"},{"x":325,"y":587,"c":"r"},{"x":330,"y":585,"c":"l"},{"x":364,"y":586,"c":"p"},{"x":356,"y":589,"c":"r"},{"x":317,"y":589,"c":"o"},{"x":343,"y":590,"c":"o"},{"x":347,"y":592,"c":"o"},{"x":335,"y":599,"c":"g"},{"x":267,"y":596,"c":"b"},{"x":271,"y":598,"c":"r"},{"x":279,"y":591,"c":"g"},{"x":381,"y":597,"c":"r"},{"x":369,"y":597,"c":"y"},{"x":364,"y":600,"c":"g"},{"x":373,"y":600,"c":"o"},{"x":361,"y":603,"c":"l"},{"x":352,"y":607,"c":"b"},{"x":399,"y":602,"c":"y"},{"x":386,"y":606,"c":"l"},{"x":378,"y":612,"c":"r"},{"x":382,"y":610,"c":"b"},{"x":390,"y":611,"c":"g"},{"x":403,"y":612,"c":"o"},{"x":360,"y":614,"c":"g"},{"x":369,"y":616,"c":"p"},{"x":407,"y":617,"c":"b"},{"x":377,"y":624,"c":"b"},{"x":394,"y":627,"c":"p"},{"x":297,"y":603,"c":"b"},{"x":258,"y":607,"c":"y"},{"x":245,"y":612,"c":"r"},{"x":271,"y":617,"c":"b"},{"x":283,"y":614,"c":"p"},{"x":289,"y":615,"c":"y"},{"x":314,"y":614,"c":"p"},{"x":275,"y":623,"c":"l"},{"x":263,"y":628,"c":"y"},{"x":280,"y":630,"c":"l"},{"x":292,"y":631,"c":"o"},{"x":301,"y":625,"c":"r"},{"x":305,"y":626,"c":"l"},{"x":331,"y":624,"c":"r"},{"x":322,"y":633,"c":"o"},{"x":348,"y":632,"c":"y"},{"x":276,"y":637,"c":"r"},{"x":289,"y":640,"c":"p"},{"x":309,"y":639,"c":"g"},{"x":336,"y":642,"c":"l"},{"x":339,"y":640,"c":"g"},{"x":267,"y":645,"c":"o"},{"x":327,"y":648,"c":"b"},{"x":356,"y":649,"c":"b"},{"x":352,"y":651,"c":"o"},{"x":344,"y":655,"c":"p"},{"x":297,"y":653,"c":"o"},{"x":293,"y":658,"c":"y"},{"x":306,"y":650,"c":"r"},{"x":284,"y":665,"c":"g"},{"x":310,"y":666,"c":"l"},{"x":314,"y":663,"c":"g"},{"x":323,"y":663,"c":"y"},{"x":259,"y":671,"c":"b"},{"x":301,"y":675,"c":"b"},{"x":327,"y":675,"c":"o"},{"x":331,"y":673,"c":"b"},{"x":318,"y":684,"c":"p"},{"x":276,"y":683,"c":"p"},{"x":378,"y":671,"c":"g"},{"x":386,"y":669,"c":"y"},{"x":390,"y":681,"c":"o"},{"x":394,"y":689,"c":"b"},{"x":382,"y":692,"c":"p"},{"x":360,"y":690,"c":"y"},{"x":352,"y":697,"c":"g"},{"x":263,"y":692,"c":"p"},{"x":293,"y":693,"c":"r"},{"x":310,"y":703,"c":"y"},{"x":339,"y":703,"c":"b"},{"x":339,"y":707,"c":"o"},{"x":365,"y":702,"c":"o"},{"x":344,"y":713,"c":"b"},{"x":356,"y":714,"c":"p"},{"x":369,"y":710,"c":"b"},{"x":268,"y":715,"c":"r"},{"x":331,"y":720,"c":"p"},{"x":319,"y":724,"c":"b"},{"x":307,"y":728,"c":"p"},{"x":302,"y":735,"c":"o"},{"x":260,"y":734,"c":"y"},{"x":264,"y":739,"c":"o"},{"x":305,"y":740,"c":"b"}],
"pc":[{"x":80,"y":1140,"c":"g"},{"x":95,"y":1140,"c":"b"},{"x":113,"y":1149,"c":"g"},{"x":117,"y":1148,"c":"p"},{"x":129,"y":1154,"c":"b"},{"x":133,"y":1155,"c":"r"},{"x":144,"y":1156,"c":"p"},{"x":110,"y":1162,"c":"p"},{"x":107,"y":1164,"c":"g"},{"x":125,"y":1161,"c":"o"},{"x":121,"y":1166,"c":"y"},{"x":140,"y":1168,"c":"g"},{"x":148,"y":1166,"c":"y"},{"x":160,"y":1165,"c":"r"},{"x":91,"y":1173,"c":"o"},{"x":99,"y":1177,"c":"r"},{"x":83,"y":1180,"c":"p"},{"x":126,"y":1173,"c":"r"},{"x":136,"y":1175,"c":"l"},{"x":141,"y":1174,"c":"y"},{"x":155,"y":1173,"c":"y"},{"x":122,"y":1182,"c":"b"},{"x":175,"y":1174,"c":"y"},{"x":160,"y":1176,"c":"o"},{"x":156,"y":1182,"c":"l"},{"x":163,"y":1179,"c":"l"},{"x":173,"y":1184,"c":"g"},{"x":201,"y":1171,"c":"r"},{"x":87,"y":1197,"c":"y"},{"x":103,"y":1192,"c":"l"},{"x":114,"y":1193,"c":"y"},{"x":137,"y":1191,"c":"p"},{"x":150,"y":1186,"c":"o"},{"x":152,"y":1192,"c":"r"},{"x":168,"y":1190,"c":"y"},{"x":178,"y":1192,"c":"o"},{"x":190,"y":1189,"c":"l"},{"x":172,"y":1201,"c":"o"},{"x":183,"y":1200,"c":"l"},{"x":202,"y":1199,"c":"g"},{"x":207,"y":1198,"c":"p"},{"x":217,"y":1197,"c":"b"},{"x":220,"y":1197,"c":"r"},{"x":118,"y":1206,"c":"o"},{"x":129,"y":1206,"c":"l"},{"x":144,"y":1209,"c":"o"},{"x":160,"y":1210,"c":"g"},{"x":133,"y":1217,"c":"g"},{"x":149,"y":1220,"c":"b"},{"x":163,"y":1220,"c":"p"},{"x":175,"y":1220,"c":"b"},{"x":179,"y":1228,"c":"r"},{"x":187,"y":1213,"c":"g"},{"x":194,"y":1206,"c":"g"},{"x":205,"y":1203,"c":"o"},{"x":213,"y":1202,"c":"o"},{"x":236,"y":1204,"c":"y"},{"x":198,"y":1212,"c":"o"},{"x":209,"y":1211,"c":"y"},{"x":221,"y":1213,"c":"g"},{"x":202,"y":1216,"c":"y"},{"x":213,"y":1219,"c":"g"},{"x":227,"y":1218,"c":"l"},{"x":198,"y":1226,"c":"p"},{"x":202,"y":1227,"c":"b"},{"x":218,"y":1231,"c":"l"},{"x":228,"y":1229,"c":"b"},{"x":237,"y":1225,"c":"b"},{"x":252,"y":1233,"c":"p"},{"x":190,"y":1236,"c":"p"},{"x":260,"y":1231,"c":"y"},{"x":215,"y":1142,"c":"g"},{"x":295,"y":1045,"c":"o"},{"x":311,"y":1054,"c":"g"},{"x":326,"y":1065,"c":"b"},{"x":341,"y":1085,"c":"p"},{"x":357,"y":1106,"c":"r"},{"x":372,"y":1120,"c":"y"},{"x":387,"y":1129,"c":"l"},{"x":402,"y":1146,"c":"o"},{"x":418,"y":1170,"c":"g"},{"x":433,"y":1184,"c":"b"},{"x":429,"y":1203,"c":"o"},{"x":426,"y":1228,"c":"y"},{"x":261,"y":1076,"c":"o"},{"x":258,"y":1087,"c":"y"},{"x":250,"y":1089,"c":"g"},{"x":277,"y":1087,"c":"g"},{"x":307,"y":1082,"c":"l"},{"x":322,"y":1093,"c":"o"},{"x":253,"y":1102,"c":"p"},{"x":265,"y":1106,"c":"b"},{"x":273,"y":1100,"c":"l"},{"x":292,"y":1111,"c":"b"},{"x":337,"y":1117,"c":"g"},{"x":269,"y":1118,"c":"r"},{"x":280,"y":1122,"c":"p"},{"x":288,"y":1124,"c":"o"},{"x":296,"y":1133,"c":"r"},{"x":307,"y":1131,"c":"p"},{"x":303,"y":1139,"c":"g"},{"x":352,"y":1132,"c":"b"},{"x":368,"y":1144,"c":"p"},{"x":383,"y":1150,"c":"r"},{"x":399,"y":1173,"c":"y"},{"x":323,"y":1143,"c":"r"},{"x":311,"y":1147,"c":"y"},{"x":299,"y":1150,"c":"l"},{"x":319,"y":1151,"c":"b"},{"x":338,"y":1159,"c":"y"},{"x":315,"y":1164,"c":"o"},{"x":326,"y":1164,"c":"l"},{"x":334,"y":1167,"c":"p"},{"x":342,"y":1178,"c":"o"},{"x":353,"y":1178,"c":"l"},{"x":349,"y":1183,"c":"r"},{"x":329,"y":1180,"c":"g"},{"x":357,"y":1192,"c":"g"},{"x":364,"y":1198,"c":"y"},{"x":368,"y":1196,"c":"o"},{"x":372,"y":1207,"c":"b"},{"x":380,"y":1211,"c":"l"},{"x":384,"y":1210,"c":"g"},{"x":360,"y":1207,"c":"p"},{"x":376,"y":1222,"c":"r"},{"x":388,"y":1225,"c":"p"},{"x":394,"y":1226,"c":"o"},{"x":399,"y":1227,"c":"b"},{"x":412,"y":1193,"c":"l"},{"x":251,"y":1198,"c":"b"},{"x":251,"y":1220,"c":"l"},{"x":266,"y":1220,"c":"p"},{"x":247,"y":1224,"c":"r"},{"x":279,"y":1192,"c":"o"},{"x":281,"y":1137,"c":"y"},{"x":263,"y":1230,"c":"o"},{"x":267,"y":1228,"c":"o"},{"x":277,"y":1232,"c":"l"},{"x":281,"y":1232,"c":"g"},{"x":289,"y":1232,"c":"y"},{"x":292,"y":1233,"c":"o"},{"x":296,"y":1234,"c":"b"},{"x":319,"y":1222,"c":"l"},{"x":334,"y":1235,"c":"o"},{"x":273,"y":1233,"c":"r"},{"x":297,"y":1244,"c":"y"},{"x":270,"y":1250,"c":"b"},{"x":286,"y":1250,"c":"p"},{"x":312,"y":1253,"c":"l"},{"x":350,"y":1248,"c":"g"},{"x":365,"y":1263,"c":"b"},{"x":327,"y":1270,"c":"o"},{"x":263,"y":1268,"c":"b"},{"x":255,"y":1257,"c":"y"},{"x":247,"y":1256,"c":"g"},{"x":244,"y":1266,"c":"l"},{"x":285,"y":1269,"c":"l"},{"x":259,"y":1278,"c":"o"},{"x":300,"y":1278,"c":"o"},{"x":315,"y":1279,"c":"g"},{"x":319,"y":1281,"c":"p"},{"x":323,"y":1284,"c":"y"},{"x":353,"y":1272,"c":"p"},{"x":362,"y":1272,"c":"o"},{"x":331,"y":1295,"c":"b"},{"x":194,"y":1242,"c":"y"},{"x":213,"y":1241,"c":"r"},{"x":206,"y":1247,"c":"r"},{"x":209,"y":1252,"c":"l"},{"x":220,"y":1257,"c":"y"},{"x":229,"y":1254,"c":"y"},{"x":225,"y":1262,"c":"o"},{"x":232,"y":1246,"c":"o"},{"x":240,"y":1245,"c":"r"},{"x":217,"y":1233,"c":"l"}]
},
"vconcat":[
{"spacing":0,"hconcat":[
{"width":504,"height":498,"encoding":{"x":{"field":"x","type":"quantitative","axis":null,"scale":{"domain":[0,504],"nice":false,"zero":false}},"y":{"field":"y","type":"quantitative","axis":null,"scale":{"domain":[503,5],"nice":false,"zero":false}}},"layer":[
{"data":{"name":"la"},"transform":[{"filter":"datum.k=='g'"}],"mark":{"type":"rule","color":"#dcdcdc","strokeWidth":1},"encoding":{"x2":{"field":"x2"},"y2":{"field":"y2"}}},
{"data":{"name":"la"},"transform":[{"filter":"datum.k=='a'"}],"mark":{"type":"rule","color":"#333333","strokeWidth":1},"encoding":{"x2":{"field":"x2"},"y2":{"field":"y2"}}},
{"data":{"name":"la"},"transform":[{"filter":"datum.k=='z'"}],"mark":{"type":"rule","color":"#666666","strokeWidth":1.6},"encoding":{"x2":{"field":"x2"},"y2":{"field":"y2"}}},
{"data":{"name":"ba"},"transform":[{"flatten":["x","y"]},{"window":[{"op":"row_number","as":"o"}]}],"mark":{"type":"line","interpolate":"linear-closed","fill":"#1a1a1a","strokeWidth":0},"encoding":{"order":{"field":"o"}}},
{"data":{"name":"sa"},"transform":[{"flatten":["x","y"]},{"window":[{"op":"row_number","as":"o"}]}],"mark":{"type":"line","interpolate":"linear-closed","fillOpacity":0.93,"stroke":"#222222","strokeOpacity":0.15,"strokeWidth":0.5},"encoding":{"order":{"field":"o"},"detail":{"field":"i"},"fill":{"field":"v","type":"quantitative","legend":null,"scale":{"domain":[65.05,65.89,66.72,67.66,68.5,69.44,70.28,71.11,72.05,72.89,73.72,74.46,75.5],"range":["#352a87","#3a3fc9","#3c63f5","#2e86ea","#1b9fdc","#12b0c9","#1fbcb0","#4cc38e","#88c45f","#bdbd3c","#e6ba30","#fbbf35","#f9fb0e"]}}}},
{"data":{"name":"ma"},"transform":[{"flatten":["x","y"]},{"window":[{"op":"row_number","as":"o"}]}],"mark":{"type":"line","color":"#222222","strokeOpacity":0.28,"strokeWidth":0.6},"encoding":{"order":{"field":"o"},"detail":{"field":"i"}}},
{"data":{"name":"pa"},"mark":{"type":"point","shape":"circle","filled":false,"size":58,"strokeWidth":2,"opacity":1},"encoding":{"color":{"field":"c","type":"nominal","legend":null,"scale":{"domain":["b","o","y","p","g","l","r"],"range":["#0072bd","#d95319","#edb120","#7e2f8e","#77ac30","#4dbeee","#a2142f"]}}}},
{"data":{"name":"ta"},"transform":[{"filter":"datum.k=='t'"}],"mark":{"type":"text","fontSize":13.5,"color":"#404040"},"encoding":{"text":{"field":"s"}}},
{"data":{"name":"ta"},"transform":[{"filter":"datum.k=='h'"}],"mark":{"type":"text","fontSize":19,"color":"#333333"},"encoding":{"text":{"field":"s"}}},
{"data":{"name":"ta"},"transform":[{"filter":"datum.k=='r'"}],"mark":{"type":"text","fontSize":19,"color":"#333333","angle":270},"encoding":{"text":{"field":"s"}}},
{"data":{"name":"ta"},"transform":[{"filter":"datum.k=='c'"}],"mark":{"type":"text","fontSize":16.5,"color":"#222222"},"encoding":{"text":{"field":"s"}}}
]},
{"width":28,"height":359,"layer":[{"data":{"name":"cb1"},"mark":{"type":"rect","clip":true,"strokeWidth":1},"encoding":{"y":{"field":"a","type":"quantitative","scale":{"domain":[65.05,75.5],"nice":false,"zero":false},"axis":{"orient":"right","values":[66,68,70,72,74],"grid":false,"domain":false,"tickSize":-4,"tickColor":"#262626","labelFontSize":19,"labelColor":"#262626","labelPadding":7,"title":"Path loss [dB]","titleFontSize":19,"titleFontWeight":"normal","titleColor":"#333333","titlePadding":8,"titleAngle":270,"titleBaseline":"top"}},"y2":{"field":"b"},"fill":{"field":"a","type":"quantitative","legend":null,"scale":{"domain":[65.05,65.89,66.72,67.66,68.5,69.44,70.28,71.11,72.05,72.89,73.72,74.46,75.5],"range":["#352a87","#3a3fc9","#3c63f5","#2e86ea","#1b9fdc","#12b0c9","#1fbcb0","#4cc38e","#88c45f","#bdbd3c","#e6ba30","#fbbf35","#f9fb0e"]}},"stroke":{"field":"a","type":"quantitative","legend":null,"scale":{"domain":[65.05,65.89,66.72,67.66,68.5,69.44,70.28,71.11,72.05,72.89,73.72,74.46,75.5],"range":["#352a87","#3a3fc9","#3c63f5","#2e86ea","#1b9fdc","#12b0c9","#1fbcb0","#4cc38e","#88c45f","#bdbd3c","#e6ba30","#fbbf35","#f9fb0e"]}}}},{"data":{"values":[{"a":65.05,"b":75.5}]},"mark":{"type":"rect","fillOpacity":0,"stroke":"#262626","strokeWidth":1},"encoding":{"y":{"field":"a","type":"quantitative"},"y2":{"field":"b"}}}]}
]},
{"spacing":0,"hconcat":[
{"width":504,"height":505,"encoding":{"x":{"field":"x","type":"quantitative","axis":null,"scale":{"domain":[0,504],"nice":false,"zero":false}},"y":{"field":"y","type":"quantitative","axis":null,"scale":{"domain":[1014,509],"nice":false,"zero":false}}},"layer":[
{"data":{"name":"lb"},"transform":[{"filter":"datum.k=='g'"}],"mark":{"type":"rule","color":"#dcdcdc","strokeWidth":1},"encoding":{"x2":{"field":"x2"},"y2":{"field":"y2"}}},
{"data":{"name":"lb"},"transform":[{"filter":"datum.k=='a'"}],"mark":{"type":"rule","color":"#333333","strokeWidth":1},"encoding":{"x2":{"field":"x2"},"y2":{"field":"y2"}}},
{"data":{"name":"lb"},"transform":[{"filter":"datum.k=='z'"}],"mark":{"type":"rule","color":"#666666","strokeWidth":1.6},"encoding":{"x2":{"field":"x2"},"y2":{"field":"y2"}}},
{"data":{"name":"bb"},"transform":[{"flatten":["x","y"]},{"window":[{"op":"row_number","as":"o"}]}],"mark":{"type":"line","interpolate":"linear-closed","fill":"#1a1a1a","strokeWidth":0},"encoding":{"order":{"field":"o"}}},
{"data":{"name":"sb"},"transform":[{"flatten":["x","y"]},{"window":[{"op":"row_number","as":"o"}]}],"mark":{"type":"line","interpolate":"linear-closed","fillOpacity":0.93,"stroke":"#222222","strokeOpacity":0.15,"strokeWidth":0.5},"encoding":{"order":{"field":"o"},"detail":{"field":"i"},"fill":{"field":"v","type":"quantitative","legend":null,"scale":{"domain":[65.05,65.89,66.72,67.66,68.5,69.44,70.28,71.11,72.05,72.89,73.72,74.46,75.5],"range":["#352a87","#3a3fc9","#3c63f5","#2e86ea","#1b9fdc","#12b0c9","#1fbcb0","#4cc38e","#88c45f","#bdbd3c","#e6ba30","#fbbf35","#f9fb0e"]}}}},
{"data":{"name":"mb"},"transform":[{"flatten":["x","y"]},{"window":[{"op":"row_number","as":"o"}]}],"mark":{"type":"line","color":"#222222","strokeOpacity":0.28,"strokeWidth":0.6},"encoding":{"order":{"field":"o"},"detail":{"field":"i"}}},
{"data":{"name":"pb"},"mark":{"type":"point","shape":"circle","filled":false,"size":58,"strokeWidth":2,"opacity":1},"encoding":{"color":{"field":"c","type":"nominal","legend":null,"scale":{"domain":["b","o","y","p","g","l","r"],"range":["#0072bd","#d95319","#edb120","#7e2f8e","#77ac30","#4dbeee","#a2142f"]}}}},
{"data":{"name":"tb"},"transform":[{"filter":"datum.k=='t'"}],"mark":{"type":"text","fontSize":13.5,"color":"#404040"},"encoding":{"text":{"field":"s"}}},
{"data":{"name":"tb"},"transform":[{"filter":"datum.k=='h'"}],"mark":{"type":"text","fontSize":19,"color":"#333333"},"encoding":{"text":{"field":"s"}}},
{"data":{"name":"tb"},"transform":[{"filter":"datum.k=='r'"}],"mark":{"type":"text","fontSize":19,"color":"#333333","angle":270},"encoding":{"text":{"field":"s"}}},
{"data":{"name":"tb"},"transform":[{"filter":"datum.k=='c'"}],"mark":{"type":"text","fontSize":16.5,"color":"#222222"},"encoding":{"text":{"field":"s"}}}
]},
{"width":28,"height":361,"layer":[{"data":{"name":"cb1"},"mark":{"type":"rect","clip":true,"strokeWidth":1},"encoding":{"y":{"field":"a","type":"quantitative","scale":{"domain":[65.08,75.45],"nice":false,"zero":false},"axis":{"orient":"right","values":[66,68,70,72,74],"grid":false,"domain":false,"tickSize":-4,"tickColor":"#262626","labelFontSize":19,"labelColor":"#262626","labelPadding":7,"title":"Path loss [dB]","titleFontSize":19,"titleFontWeight":"normal","titleColor":"#333333","titlePadding":8,"titleAngle":270,"titleBaseline":"top"}},"y2":{"field":"b"},"fill":{"field":"a","type":"quantitative","legend":null,"scale":{"domain":[65.05,65.89,66.72,67.66,68.5,69.44,70.28,71.11,72.05,72.89,73.72,74.46,75.5],"range":["#352a87","#3a3fc9","#3c63f5","#2e86ea","#1b9fdc","#12b0c9","#1fbcb0","#4cc38e","#88c45f","#bdbd3c","#e6ba30","#fbbf35","#f9fb0e"]}},"stroke":{"field":"a","type":"quantitative","legend":null,"scale":{"domain":[65.05,65.89,66.72,67.66,68.5,69.44,70.28,71.11,72.05,72.89,73.72,74.46,75.5],"range":["#352a87","#3a3fc9","#3c63f5","#2e86ea","#1b9fdc","#12b0c9","#1fbcb0","#4cc38e","#88c45f","#bdbd3c","#e6ba30","#fbbf35","#f9fb0e"]}}}},{"data":{"values":[{"a":65.08,"b":75.45}]},"mark":{"type":"rect","fillOpacity":0,"stroke":"#262626","strokeWidth":1},"encoding":{"y":{"field":"a","type":"quantitative"},"y2":{"field":"b"}}}]}
]},
{"spacing":0,"hconcat":[
{"width":497,"height":454,"encoding":{"x":{"field":"x","type":"quantitative","axis":null,"scale":{"domain":[0,497],"nice":false,"zero":false}},"y":{"field":"y","type":"quantitative","axis":null,"scale":{"domain":[1469,1015],"nice":false,"zero":false}}},"layer":[
{"data":{"name":"lc"},"transform":[{"filter":"datum.k=='g'"}],"mark":{"type":"rule","color":"#dcdcdc","strokeWidth":1},"encoding":{"x2":{"field":"x2"},"y2":{"field":"y2"}}},
{"data":{"name":"lc"},"transform":[{"filter":"datum.k=='a'"}],"mark":{"type":"rule","color":"#333333","strokeWidth":1},"encoding":{"x2":{"field":"x2"},"y2":{"field":"y2"}}},
{"data":{"name":"lc"},"transform":[{"filter":"datum.k=='z'"}],"mark":{"type":"rule","color":"#666666","strokeWidth":1.6},"encoding":{"x2":{"field":"x2"},"y2":{"field":"y2"}}},
{"data":{"name":"bc"},"transform":[{"flatten":["x","y"]},{"window":[{"op":"row_number","as":"o"}]}],"mark":{"type":"line","interpolate":"linear-closed","fill":"#1a1a1a","strokeWidth":0},"encoding":{"order":{"field":"o"}}},
{"data":{"name":"sc"},"transform":[{"flatten":["x","y"]},{"window":[{"op":"row_number","as":"o"}]}],"mark":{"type":"line","interpolate":"linear-closed","fillOpacity":0.93,"stroke":"#222222","strokeOpacity":0.15,"strokeWidth":0.5},"encoding":{"order":{"field":"o"},"detail":{"field":"i"},"fill":{"field":"v","type":"quantitative","legend":null,"scale":{"domain":[64.8,65.12,65.43,65.79,66.1,66.46,66.78,67.09,67.45,67.76,68.08,68.36,68.75],"range":["#352a87","#3a3fc9","#3c63f5","#2e86ea","#1b9fdc","#12b0c9","#1fbcb0","#4cc38e","#88c45f","#bdbd3c","#e6ba30","#fbbf35","#f9fb0e"]}}}},
{"data":{"name":"mc"},"transform":[{"flatten":["x","y"]},{"window":[{"op":"row_number","as":"o"}]}],"mark":{"type":"line","color":"#222222","strokeOpacity":0.28,"strokeWidth":0.6},"encoding":{"order":{"field":"o"},"detail":{"field":"i"}}},
{"data":{"values":[{"x":69,"y":1151,"x2":228,"y2":1241}]},"mark":{"type":"rule","color":"#111111","strokeWidth":2},"encoding":{"x2":{"field":"x2"},"y2":{"field":"y2"}}},
{"data":{"name":"pc"},"mark":{"type":"point","shape":"circle","filled":false,"size":58,"strokeWidth":2,"opacity":1},"encoding":{"color":{"field":"c","type":"nominal","legend":null,"scale":{"domain":["b","o","y","p","g","l","r"],"range":["#0072bd","#d95319","#edb120","#7e2f8e","#77ac30","#4dbeee","#a2142f"]}}}},
{"data":{"name":"tc"},"transform":[{"filter":"datum.k=='t'"}],"mark":{"type":"text","fontSize":13.5,"color":"#404040"},"encoding":{"text":{"field":"s"}}},
{"data":{"name":"tc"},"transform":[{"filter":"datum.k=='h'"}],"mark":{"type":"text","fontSize":19,"color":"#333333"},"encoding":{"text":{"field":"s"}}},
{"data":{"name":"tc"},"transform":[{"filter":"datum.k=='r'"}],"mark":{"type":"text","fontSize":19,"color":"#333333","angle":270},"encoding":{"text":{"field":"s"}}},
{"data":{"name":"tc"},"transform":[{"filter":"datum.k=='c'"}],"mark":{"type":"text","fontSize":16.5,"color":"#222222"},"encoding":{"text":{"field":"s"}}}
]},
{"width":28,"height":358,"layer":[{"data":{"name":"cb3"},"mark":{"type":"rect","clip":true,"strokeWidth":1},"encoding":{"y":{"field":"a","type":"quantitative","scale":{"domain":[64.8,68.75],"nice":false,"zero":false},"axis":{"orient":"right","values":[65,65.5,66,66.5,67,67.5,68,68.5],"format":"~r","grid":false,"domain":false,"tickSize":-4,"tickColor":"#262626","labelFontSize":19,"labelColor":"#262626","labelPadding":7,"title":"Path loss [dB]","titleFontSize":19,"titleFontWeight":"normal","titleColor":"#333333","titlePadding":8,"titleAngle":270,"titleBaseline":"top"}},"y2":{"field":"b"},"fill":{"field":"a","type":"quantitative","legend":null,"scale":{"domain":[64.8,65.12,65.43,65.79,66.1,66.46,66.78,67.09,67.45,67.76,68.08,68.36,68.75],"range":["#352a87","#3a3fc9","#3c63f5","#2e86ea","#1b9fdc","#12b0c9","#1fbcb0","#4cc38e","#88c45f","#bdbd3c","#e6ba30","#fbbf35","#f9fb0e"]}},"stroke":{"field":"a","type":"quantitative","legend":null,"scale":{"domain":[64.8,65.12,65.43,65.79,66.1,66.46,66.78,67.09,67.45,67.76,68.08,68.36,68.75],"range":["#352a87","#3a3fc9","#3c63f5","#2e86ea","#1b9fdc","#12b0c9","#1fbcb0","#4cc38e","#88c45f","#bdbd3c","#e6ba30","#fbbf35","#f9fb0e"]}}}},{"data":{"values":[{"a":64.8,"b":68.75}]},"mark":{"type":"rect","fillOpacity":0,"stroke":"#262626","strokeWidth":1},"encoding":{"y":{"field":"a","type":"quantitative"},"y2":{"field":"b"}}}]}
]}
]}
